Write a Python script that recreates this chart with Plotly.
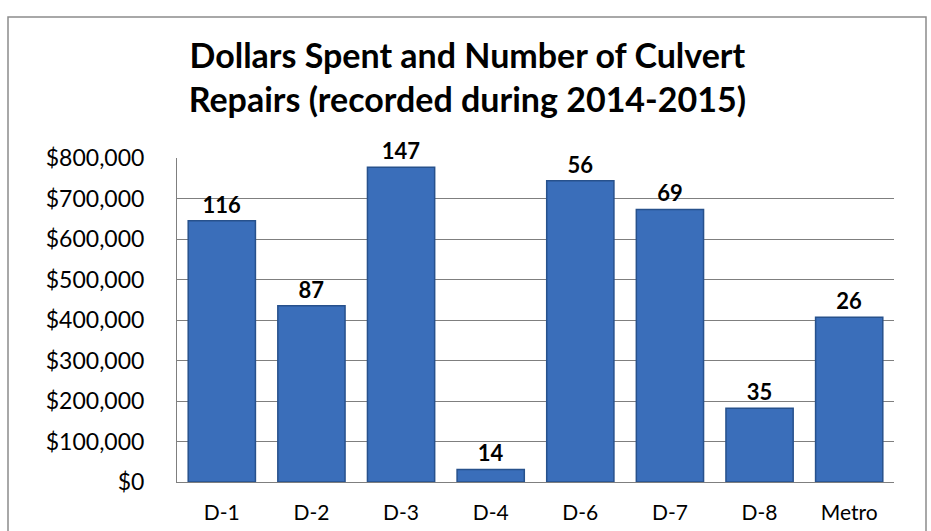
import plotly.graph_objects as go

categories = ["D-1", "D-2", "D-3", "D-4", "D-6", "D-7", "D-8", "Metro"]
dollars = [645000, 435000, 777000, 31000, 744000, 673000, 182000, 407000]
repairs = [116, 87, 147, 14, 56, 69, 35, 26]
tick_vals = [0, 100000, 200000, 300000, 400000, 500000, 600000, 700000, 800000]
tick_text = ["$0", "$100,000", "$200,000", "$300,000", "$400,000",
             "$500,000", "$600,000", "$700,000", "$800,000"]

FONT = "Lato"

fig = go.Figure()
fig.add_trace(go.Bar(
    x=categories, y=dollars,
    text=[str(r) for r in repairs],
    textposition="outside",
    textfont=dict(family=FONT, size=22, color="#000000", weight="bold"),
    cliponaxis=False,
    marker=dict(color="#3a6eba", line=dict(color="#27518c", width=1.5)),
    width=0.75,
    hoverinfo="x+y",
))

fig.update_layout(
    width=931, height=531,
    margin=dict(l=177, r=37, t=158, b=49),
    paper_bgcolor="white", plot_bgcolor="white",
    showlegend=False,
    bargap=0.25,
    title=dict(
        text="Dollars Spent and Number of Culvert<br>Repairs (recorded during 2014-2015)",
        font=dict(family=FONT, size=34, color="#000000", weight="bold"),
        x=0.502, xref="container", xanchor="center",
        y=1 - 68 / 531, yref="container", yanchor="middle",
    ),
    xaxis=dict(
        type="category",
        showgrid=False,
        showline=True, linecolor="#7f7f7f", linewidth=1,
        ticks="",
        tickfont=dict(family=FONT, size=21, color="#000000"),
        ticklabelstandoff=12,
        automargin=False,
    ),
    yaxis=dict(
        range=[0, 800000],
        tickvals=tick_vals, ticktext=tick_text,
        showgrid=True, gridcolor="#7f7f7f", gridwidth=1,
        showline=True, linecolor="#7f7f7f", linewidth=1,
        zeroline=False,
        ticks="",
        tickfont=dict(family=FONT, size=23, color="#000000"),
        ticklabelstandoff=27,
        automargin=False,
    ),
    shapes=[dict(
        type="rect", xref="paper", yref="paper",
        x0=(8 - 177) / 717, x1=(926 - 177) / 717,
        y0=-0.3, y1=(482 - 17) / 324,
        line=dict(color="#8c8c8c", width=1.5),
        fillcolor="rgba(0,0,0,0)", layer="below",
    )],
)

fig.write_html("out.html")
